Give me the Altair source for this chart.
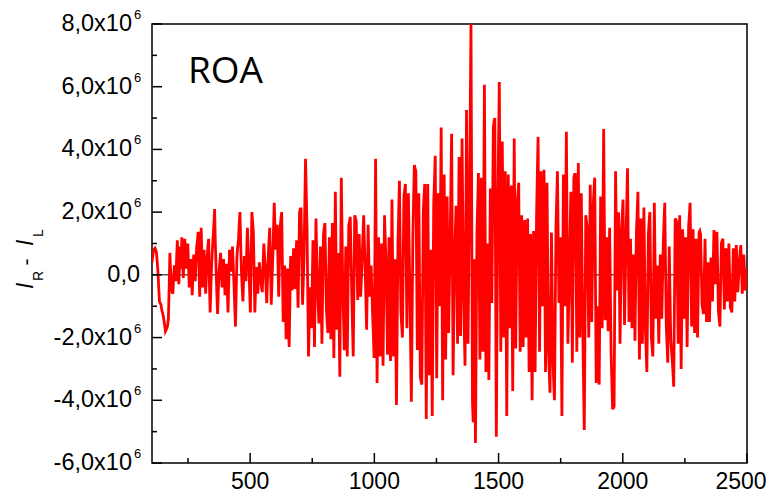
import altair as alt
import pandas as pd

# ---- data (signal in units of 1e6), sampled every 6 units from x = 105 ----
x_start = 105
x_step = 6
signal_1e6 = [
    0.40, 0.75, 0.85, 0.70, 0.10, -0.85, -0.95, -1.20, -1.45, -1.80,
    -1.70, -1.40, 0.70, -0.45, -0.60, 0.30, -0.20, 1.10, -0.30, 0.90,
    1.20, -0.10, 1.15, 0.20, 1.00, -0.40, 0.50, -0.65, 0.65, -0.20,
    0.90, 1.37, -0.70, 1.50, -0.40, 0.80, -0.60, 0.50, 1.15, -1.20,
    0.30, 1.20, 2.10, 0.20, -1.25, 0.10, 0.70, -0.40, 0.50, -0.65,
    0.35, -1.20, 0.80, 0.10, 0.90, -0.30, -1.65, 0.60, 1.10, 2.00,
    0.10, -0.85, 0.60, -0.20, 1.50, 0.30, -1.20, 2.00, 1.35, -1.20,
    0.25, -0.60, 0.40, -0.10, -0.55, 1.00, 0.20, -0.90, 0.60, 1.50,
    -0.95, 0.50, 2.30, 0.80, 1.60, -0.70, 1.50, 2.00, -1.50, 0.30,
    -2.05, 0.20, -2.30, 0.60, -0.50, 0.85, -0.45, 1.10, -1.05, 2.00,
    2.10, -0.95, 0.60, 3.70, 1.50, -2.60, -0.40, -1.70, 1.10, -2.30,
    1.80, -0.40, -1.55, 0.90, -2.20, 1.25, 1.65, -1.10, -1.85, 1.20,
    -2.05, 1.65, -2.65, 2.65, -1.75, 0.70, -3.25, 3.10, -0.45, -2.40,
    0.90, -2.60, 1.60, 1.85, -0.60, -2.60, 1.90, 1.70, -0.80, 1.30,
    -0.70, 0.55, 1.90, 0.20, -1.75, 1.60, -0.70, 0.30, -1.25, -2.65,
    3.70, -3.45, 1.20, -2.60, 1.00, -2.90, 1.90, 0.40, -2.55, 1.20,
    -2.75, 2.40, -2.60, 0.50, -4.15, 1.00, 3.00, -1.20, -2.00, 2.50,
    2.90, -1.70, 2.60, -0.50, -4.05, 1.20, 3.50, 3.30, -2.40, 2.60,
    -3.25, -3.50, 2.00, 2.90, -4.60, 2.90, -3.20, 0.80, -4.50, 2.30,
    3.80, -3.30, 2.60, -1.00, 4.70, -4.00, 3.20, -2.70, 2.50, -1.85,
    1.00, 4.50, -3.20, 0.60, 2.20, -2.20, 3.76, -1.95, 4.35, -0.60,
    -2.90, 5.26, -2.20, 2.50, 8.00, -4.05, 0.50, -5.36, 1.35, 3.25,
    -2.70, 3.10, -2.45, 6.06, -3.10, 1.00, -3.35, 2.75, -0.90, 4.70,
    5.00, -5.16, 2.20, 6.15, -2.45, 4.25, -2.00, 3.30, -4.50, 3.20,
    -1.70, 2.85, -3.70, 4.35, -2.35, 2.30, 2.94, -2.45, 1.90, -2.30,
    1.75, -2.00, 1.80, -3.10, 1.30, -4.00, 1.40, -3.10, 1.90, 4.40,
    -2.45, 3.30, -1.00, 3.35, -3.10, 2.94, -2.45, -3.76, 1.35, -2.75,
    -4.00, 1.50, 3.30, -0.90, 1.20, -4.50, 3.20, -1.00, 4.56, -2.20,
    0.00, 2.65, -2.80, 3.10, 3.20, -2.45, 3.57, -2.00, 2.60, -1.75,
    -4.95, 1.90, 1.50, -2.00, 2.87, -1.50, 2.20, 3.10, -3.45, -1.00,
    -3.50, 2.50, -1.70, 4.65, -1.45, 1.20, -1.80, 1.50, -2.50, -4.25,
    -4.20, 3.30, -0.50, 2.00, -2.20, 1.45, 2.40, -1.60, 1.15, 3.40,
    -1.50, 1.15, -1.70, 0.65, -2.10, 1.40, 2.65, -2.70, 1.80, -2.20,
    2.15, -1.70, -3.10, 1.30, 2.00, -2.00, -2.60, 2.30, -1.40, 0.30,
    -2.20, 0.65, -1.40, 1.00, 2.30, -1.60, -2.80, 0.90, -2.00, -2.70,
    -3.57, 1.80, 1.70, -2.20, 1.90, -3.00, 1.45, -1.40, 1.20, -2.30,
    1.55, 2.30, -1.65, 1.45, -1.85, 1.15, -2.00, 1.35, 1.30, -0.95,
    -1.25, 1.15, -1.50, 0.40, -1.50, 0.55, -0.85, 1.43, -0.30, 1.37,
    -1.15, -1.65, 1.00, 1.15, -1.10, 0.85, -0.85, 1.00, -1.05, -1.20,
    0.85, -0.85, 0.95, -0.55, 0.40, 0.95, -0.60, 0.65, -0.50, 0.20,
]
# readings half-way between the samples above (x = 108, 114, ...)
signal_mid_1e6 = [
    0.60, 0.82, 0.80, 0.40, -0.40, -0.90, -1.10, -1.30, -1.60, -1.75,
    -1.60, -0.40, 0.10, -0.55, -0.10, 0.05, 0.50, 0.40, 0.30, 0.20,
    0.50, 0.60, 0.70, 0.60, 0.30, 0.20, -0.10, 0.10, 0.20, 0.40,
    1.10, 0.30, 0.60, 0.50, 0.20, 0.10, 0.00, 0.90, -0.20, -0.40,
    0.80, 1.60, 1.00, -0.60, -0.50, 0.40, 0.10, 0.10, -0.10, -0.10,
    -0.50, -0.20, 0.40, 0.50, 0.30, -1.00, -0.50, 0.90, 1.60, 1.00,
    -0.40, -0.10, 0.20, 0.70, 0.90, -0.50, 0.40, 1.70, 0.10, -0.40,
    -0.20, -0.10, 0.15, -0.40, 0.30, 0.60, -0.40, -0.10, 1.10, 0.20,
    -0.20, 1.40, 1.50, 1.20, 0.40, 0.40, 1.80, 0.20, -0.60, -1.00,
    -1.00, -1.20, -0.90, 0.00, 0.20, 0.20, 0.30, 0.00, 0.50, 2.10,
    0.50, -0.20, 2.20, 2.60, -0.60, -1.50, -1.00, -0.30, -0.60, -0.30,
    0.70, -1.00, -0.30, -0.70, -0.50, 1.50, 0.30, -1.50, -0.30, -0.40,
    -0.20, -0.50, 0.00, 0.40, -0.50, -1.30, 0.00, 1.30, -1.40, -0.80,
    -0.80, -0.50, 1.70, 0.60, -1.60, -0.30, 1.80, 0.40, 0.30, 0.30,
    -0.10, 1.20, 1.00, -0.80, -0.10, 0.40, -0.20, -0.50, -1.90, 0.50,
    0.10, -1.10, -0.70, -0.80, -1.00, -0.50, 1.10, -1.10, -0.70, -0.80,
    -0.20, 0.00, -1.00, -1.80, -1.60, 2.00, 0.90, -1.60, 0.30, 2.70,
    0.60, 0.40, 1.00, -2.30, -1.40, 2.40, 3.40, 0.50, 0.10, -0.30,
    -3.40, -0.80, 2.50, -0.80, -0.80, -0.20, -1.20, -1.80, -1.00, 3.00,
    0.20, -0.40, 0.80, 1.90, 0.30, -0.40, 0.20, -0.10, 0.30, -0.40,
    2.80, 0.60, -1.30, 1.40, 0.00, 0.80, 0.90, 1.20, 1.90, -1.80,
    1.20, 1.50, 0.20, 5.20, 2.00, -4.70, -2.40, -2.00, 2.30, 0.30,
    0.20, 0.30, 1.80, 1.50, -1.00, -1.20, -0.30, 0.90, 1.90, 4.90,
    0.00, -1.50, 4.20, 1.80, 0.90, 1.10, 0.60, -0.60, -0.70, 0.70,
    0.60, -0.40, 0.30, 1.00, 0.00, 2.60, 0.20, -0.30, -0.20, -0.30,
    -0.10, -0.10, -0.60, -0.90, -1.30, -1.30, -0.90, -0.60, 3.20, 1.00,
    0.40, 1.20, 1.20, 0.10, 0.00, 0.20, -3.10, -1.20, -0.70, -3.40,
    -1.30, 2.40, 1.20, 0.20, -1.70, -0.60, 1.10, 1.80, 1.20, -1.10,
    1.40, -0.10, 0.10, 3.20, 0.40, 0.60, 0.80, 0.30, 0.40, -3.40,
    -1.50, 1.70, -0.20, 0.40, 0.70, 0.30, 2.70, -0.20, -2.30, -2.30,
    -0.50, 0.40, 1.50, 1.60, -0.10, -0.30, -0.10, -0.50, -3.40, -4.25,
    -0.40, 1.40, 0.80, -0.10, -0.40, 1.90, 0.40, -0.20, 2.30, 1.00,
    -0.20, -0.30, -0.50, -0.70, -0.30, 2.00, -0.10, -0.40, -0.20, 0.00,
    0.20, -2.40, -0.90, 1.70, 0.00, -2.30, -0.20, 0.40, -0.60, -1.00,
    -0.80, -0.40, -0.20, 1.70, 0.30, -2.20, -1.00, -0.60, -2.40, -3.10,
    -0.90, 1.75, -0.30, -0.10, -0.60, -0.80, 0.00, -0.10, -0.50, -0.40,
    1.90, 0.30, -0.10, -0.20, -0.30, -0.40, -0.30, 1.40, 0.20, -1.10,
    -0.10, -0.20, -0.60, -0.50, -0.50, -0.20, 0.30, 0.60, 0.50, 0.10,
    -1.40, -0.30, 1.10, 0.00, -0.10, 0.00, 0.10, 0.00, -1.10, -0.20,
    0.00, 0.10, 0.20, -0.10, 0.70, 0.20, 0.00, 0.10, -0.20, -0.30,
]

x_major = [500, 1000, 1500, 2000, 2500]
x_labels = ["500", "1000", "1500", "2000", "2500"]
x_minor = [250, 750, 1250, 1750, 2250]
y_major = [-6, -4, -2, 0, 2, 4, 6, 8]
y_minor = [-5, -3, -1, 1, 3, 5, 7]
y_labels = ["-6,0x10", "-4,0x10", "-2,0x10", "0,0", "2,0x10", "4,0x10", "6,0x10", "8,0x10"]
y_sups = ["6", "6", "6", "", "6", "6", "6", "6"]

W, H = 595, 439
FONT = "Liberation Sans"
LABEL_SIZE = 23.5
XLABEL_SIZE = 23

df = pd.concat([
    pd.DataFrame({"x": [x_start + x_step * i for i in range(len(signal_1e6))], "y": signal_1e6}),
    pd.DataFrame({"x": [x_start + x_step // 2 + x_step * i for i in range(len(signal_mid_1e6))],
                  "y": signal_mid_1e6}),
]).sort_values("x").reset_index(drop=True)

xs = alt.Scale(domain=[105, 2500], nice=False, zero=False)
ys = alt.Scale(domain=[-6, 8], nice=False, zero=False)

zero_line = alt.Chart(pd.DataFrame({"v": [0]})).mark_rule(color="black", strokeWidth=1).encode(
    y=alt.Y("v:Q", scale=ys, axis=None)
)

line = alt.Chart(df).mark_line(color="#ff0000", strokeWidth=2.8, clip=True).encode(
    x=alt.X("x:Q", scale=xs, axis=None),
    y=alt.Y("y:Q", scale=ys, axis=None),
    order="x:Q",
)

xmaj = alt.Chart(pd.DataFrame({"v": x_major})).mark_rule(color="black", strokeWidth=1.5).encode(
    x=alt.X("v:Q", scale=xs, axis=None), y=alt.value(H), y2=alt.value(H - 10)
)
xmin = alt.Chart(pd.DataFrame({"v": x_minor})).mark_rule(color="black", strokeWidth=1.5).encode(
    x=alt.X("v:Q", scale=xs, axis=None), y=alt.value(H), y2=alt.value(H - 5)
)
ymaj = alt.Chart(pd.DataFrame({"v": y_major})).mark_rule(color="black", strokeWidth=1.5).encode(
    y=alt.Y("v:Q", scale=ys, axis=None), x=alt.value(0), x2=alt.value(10)
)
ymin = alt.Chart(pd.DataFrame({"v": y_minor})).mark_rule(color="black", strokeWidth=1.5).encode(
    y=alt.Y("v:Q", scale=ys, axis=None), x=alt.value(0), x2=alt.value(5)
)

xlab_df = pd.DataFrame({"v": x_major, "t": x_labels})
xlab = alt.Chart(xlab_df).transform_filter("datum.v < 2500").mark_text(
    align="center", baseline="alphabetic", font=FONT, fontSize=XLABEL_SIZE, color="black"
).encode(x=alt.X("v:Q", scale=xs, axis=None), y=alt.value(H + 26), text="t:N")
xlab_last = alt.Chart(xlab_df).transform_filter("datum.v == 2500").mark_text(
    align="center", baseline="alphabetic", font=FONT, fontSize=XLABEL_SIZE, color="black", dx=-6
).encode(x=alt.X("v:Q", scale=xs, axis=None), y=alt.value(H + 26), text="t:N")

lab_df = pd.DataFrame({"v": y_major, "t": y_labels, "s": y_sups})
ylab = alt.Chart(lab_df).transform_filter("datum.v != 0").mark_text(
    align="right", baseline="middle", font=FONT, fontSize=LABEL_SIZE, color="black"
).encode(y=alt.Y("v:Q", scale=ys, axis=None), x=alt.value(-20), text="t:N")
ylab0 = alt.Chart(lab_df).transform_filter("datum.v == 0").mark_text(
    align="right", baseline="middle", font=FONT, fontSize=LABEL_SIZE, color="black"
).encode(y=alt.Y("v:Q", scale=ys, axis=None), x=alt.value(-12), text="t:N")
ysup = alt.Chart(lab_df).transform_filter("datum.v != 0").mark_text(
    align="left", baseline="middle", font=FONT, fontSize=13, color="black", dy=-9
).encode(y=alt.Y("v:Q", scale=ys, axis=None), x=alt.value(-18), text="s:N")

roa = alt.Chart(pd.DataFrame({"t": ["ROA"]})).mark_text(
    align="left", baseline="alphabetic", font="Open Sans", fontSize=37, color="black"
).encode(x=alt.value(36), y=alt.value(59), text="t:N")

def rot(txt, px, py, size, italic=False, align="left"):
    return alt.Chart(pd.DataFrame({"t": [txt]})).mark_text(
        align=align, baseline="alphabetic", font=FONT, fontSize=size, angle=270,
        fontStyle="italic" if italic else "normal", color="black"
    ).encode(x=alt.value(px), y=alt.value(py), text="t:N")

title_parts = [
    rot("I", 33 - 152, 289 - 24, 23, italic=True),
    rot("R", 43 - 152, 281 - 24, 14),
    rot("-", 33 - 152, 262 - 24, 21, align="center"),
    rot("I", 33 - 152, 246 - 24, 23, italic=True),
    rot("L", 43 - 152, 237 - 24, 14),
]

chart = alt.layer(
    zero_line, line, xmaj, xmin, ymaj, ymin, xlab, xlab_last, ylab, ylab0, ysup, roa, *title_parts
).properties(
    width=W, height=H,
    autosize=alt.AutoSizeParams(type="none"),
    padding={"left": 144, "top": 16, "right": 20, "bottom": 30},
).configure_view(stroke="black", strokeWidth=1.5)

chart.save("out.html", embed_options={"renderer": "svg", "actions": False})
